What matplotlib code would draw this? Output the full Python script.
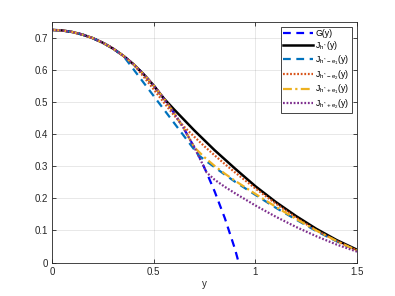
import matplotlib
matplotlib.use("Agg")
import matplotlib.pyplot as plt

plt.rcParams['font.family'] = ['Liberation Sans', 'DejaVu Sans']
plt.rcParams['mathtext.default'] = 'regular'

# G(y)
g_x = [0, 0.05, 0.1, 0.15, 0.2, 0.25, 0.3, 0.35, 0.4, 0.45, 0.5, 0.55, 0.6, 0.65, 0.7, 0.72, 0.75, 0.76, 0.8, 0.85, 0.9, 0.918]
g_y = [0.725, 0.7234, 0.7185, 0.7105, 0.6995, 0.6851, 0.667, 0.6449, 0.6185, 0.5876, 0.552, 0.5116, 0.4665, 0.4159, 0.359, 0.335, 0.2946, 0.281, 0.2215, 0.1384, 0.042, 0.0]

# J_{h*}(y)
j0_x = [0, 0.05, 0.1, 0.15, 0.2, 0.25, 0.3, 0.35, 0.4, 0.45, 0.5, 0.55, 0.6, 0.7, 0.8, 0.9, 1.0, 1.1, 1.2, 1.3, 1.4, 1.5]
j0_y = [0.725, 0.7234, 0.7185, 0.7105, 0.6995, 0.6851, 0.667, 0.6449, 0.6185, 0.5876, 0.552, 0.5116, 0.4775, 0.4117, 0.350, 0.293, 0.238, 0.189, 0.145, 0.105, 0.070, 0.040]

# J_{h*-e1}(y)
jm1_x = [0, 0.05, 0.1, 0.15, 0.2, 0.25, 0.3, 0.35, 0.72, 0.75, 0.8, 0.85, 0.9, 1.0, 1.1, 1.2, 1.3, 1.4, 1.5]
jm1_y = [0.725, 0.7234, 0.7185, 0.7105, 0.6995, 0.6851, 0.667, 0.6449, 0.335, 0.320, 0.297, 0.274, 0.252, 0.211, 0.171, 0.134, 0.098, 0.066, 0.037]

# J_{h*-e2}(y)
jm2_x = [0, 0.05, 0.1, 0.15, 0.2, 0.25, 0.3, 0.35, 0.4, 0.45, 0.5, 0.55, 0.6, 0.65, 0.7, 0.75, 0.8, 0.85, 0.9, 1.0, 1.1, 1.2, 1.3, 1.4, 1.5]
jm2_y = [0.725, 0.7234, 0.7185, 0.7105, 0.6995, 0.6851, 0.667, 0.6449, 0.6185, 0.580, 0.540, 0.499, 0.459, 0.423, 0.392, 0.362, 0.334, 0.307, 0.281, 0.231, 0.184, 0.140, 0.100, 0.067, 0.038]

# J_{h*+e1}(y)
jp1_x = [0, 0.05, 0.1, 0.15, 0.2, 0.25, 0.3, 0.35, 0.4, 0.45, 0.5, 0.55, 0.6, 0.65, 0.7, 0.75, 0.8, 0.85, 0.9, 1.0, 1.1, 1.2, 1.3, 1.4, 1.5]
jp1_y = [0.725, 0.7234, 0.7185, 0.7105, 0.6995, 0.6851, 0.667, 0.6449, 0.6185, 0.5876, 0.552, 0.5116, 0.4665, 0.4159, 0.359, 0.328, 0.301, 0.277, 0.255, 0.214, 0.174, 0.136, 0.100, 0.067, 0.037]

# J_{h*+e2}(y)
jp2_x = [0, 0.05, 0.1, 0.15, 0.2, 0.25, 0.3, 0.35, 0.4, 0.45, 0.5, 0.55, 0.6, 0.65, 0.7, 0.75, 0.76, 0.8, 0.85, 0.9, 1.0, 1.1, 1.2, 1.3, 1.4, 1.5]
jp2_y = [0.725, 0.7234, 0.7185, 0.7105, 0.6995, 0.6851, 0.667, 0.6449, 0.6185, 0.5876, 0.552, 0.5116, 0.4665, 0.4159, 0.359, 0.2946, 0.281, 0.258, 0.236, 0.216, 0.178, 0.143, 0.111, 0.082, 0.056, 0.034]

labels = ['G(y)', r'J$_{h^*}$(y)', r'J$_{h^*\!-e_1}$(y)', r'J$_{h^*\!-e_2}$(y)',
          r'J$_{h^*\!+e_1}$(y)', r'J$_{h^*\!+e_2}$(y)']
x_ticks = [0, 0.5, 1, 1.5]
x_ticklabels = ['0', '0.5', '1', '1.5']
y_ticks = [0, 0.1, 0.2, 0.3, 0.4, 0.5, 0.6, 0.7]
y_ticklabels = ['0', '0.1', '0.2', '0.3', '0.4', '0.5', '0.6', '0.7']

fig = plt.figure(figsize=(3.95, 2.96), dpi=100)
ax = fig.add_axes([0.1316, 0.113, 0.7722, 0.813])

ax.plot(g_x, g_y, color=(0, 0, 1), linestyle=(0, (3.5, 2.5)), lw=1.6, label=labels[0])
ax.plot(j0_x, j0_y, color='black', linestyle='-', lw=1.8, label=labels[1])
ax.plot(jm1_x, jm1_y, color=(0, 0.447, 0.741), linestyle=(0, (3.5, 2.5)), lw=1.6, label=labels[2])
ax.plot(jm2_x, jm2_y, color=(0.85, 0.325, 0.098), linestyle=(0, (0.8, 0.8)), lw=1.6, label=labels[3])
ax.plot(jp1_x, jp1_y, color=(0.929, 0.694, 0.125), linestyle=(0, (4, 1.5, 1, 1.5)), lw=1.6, label=labels[4])
ax.plot(jp2_x, jp2_y, color=(0.494, 0.184, 0.556), linestyle=(0, (0.8, 0.8)), lw=1.6, label=labels[5])

ax.set_xlim(0, 1.5)
ax.set_ylim(0, 0.75)
ax.set_xticks(x_ticks)
ax.set_xticklabels(x_ticklabels)
ax.set_yticks(y_ticks)
ax.set_yticklabels(y_ticklabels)
ax.tick_params(direction='in', length=3, width=0.6, labelsize=7, colors=(0.15, 0.15, 0.15),
               top=True, right=True, pad=3)
for s in ax.spines.values():
    s.set_color((0.15, 0.15, 0.15))
    s.set_linewidth(0.6)
ax.grid(True, color=(0.15, 0.15, 0.15), alpha=0.12, lw=0.6)
ax.set_axisbelow(True)
ax.set_xlabel('y', fontsize=7, color=(0.15, 0.15, 0.15), labelpad=2)

leg = ax.legend(loc='upper right', fontsize=6.3, handlelength=3.4, handletextpad=0.25,
                labelspacing=0.12, borderpad=0.3, fancybox=False, framealpha=1,
                edgecolor=(0.15, 0.15, 0.15), borderaxespad=0.55)
leg.get_frame().set_linewidth(0.6)

fig.savefig('out.png', dpi=100)
